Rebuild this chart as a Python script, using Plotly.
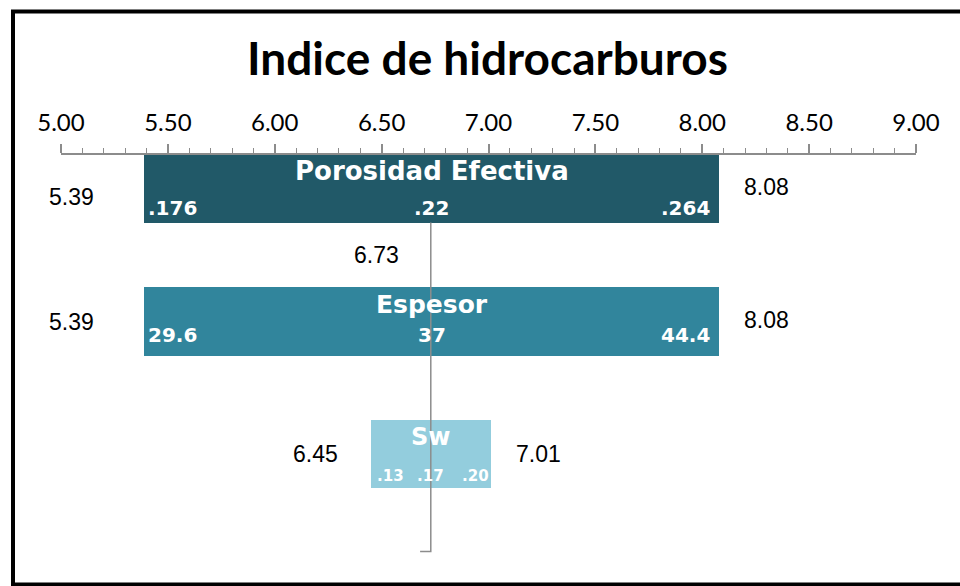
import plotly.graph_objects as go

# --- data -------------------------------------------------------------
chart_title = "Indice de hidrocarburos"
categories = ["Porosidad Efectiva", "Espesor", "Sw"]
low_values = [5.39, 5.39, 6.45]
high_values = [8.08, 8.08, 7.01]
base_value = 6.73
param_low = [".176", "29.6", ".13"]
param_mid = [".22", "37", ".17"]
param_high = [".264", "44.4", ".20"]
tick_values = [5.0, 5.5, 6.0, 6.5, 7.0, 7.5, 8.0, 8.5, 9.0]

# --- style ------------------------------------------------------------
bar_colors = ["#215968", "#31859C", "#93CDDD"]
name_sizes = [26, 25, 24]
param_sizes = [20, 20, 15]
name_shift = [18, 17, 17]
param_shift = [-19, -13, -22]
side_font = "Liberation Sans, Arial, sans-serif"
bar_font = "DejaVu Sans, Verdana, sans-serif"
axis_gray = "#8c8c8c"

W, H = 960, 586
ML, MR, MT, MB = 61, 44, 155, 20
y_range = [2.85, -0.26]

fig = go.Figure()

# spine through the base case
rows = list(range(len(categories)))
spine_bottom = 2.74
fig.add_trace(go.Scatter(
    x=[base_value, base_value, base_value - 0.05],
    y=[0.25, spine_bottom, spine_bottom],
    mode="lines", line=dict(color=axis_gray, width=1.5),
    hoverinfo="skip", showlegend=False,
))

fig.add_trace(go.Bar(
    y=rows,
    x=[h - l for l, h in zip(low_values, high_values)],
    base=low_values,
    orientation="h",
    width=0.515,
    marker=dict(color=bar_colors, line=dict(width=0)),
    hoverinfo="skip", showlegend=False,
))

ann = []
for i, name in enumerate(categories):
    lo, hi = low_values[i], high_values[i]
    mid = (lo + hi) / 2
    ann.append(dict(x=mid, y=i, text=f"<b>{name}</b>", showarrow=False,
                    yshift=name_shift[i],
                    font=dict(family=bar_font, size=name_sizes[i], color="white")))
    ann.append(dict(x=lo, y=i, text=f"<b>{param_low[i]}</b>", showarrow=False,
                    xanchor="left", xshift=2 if i < 2 else 4, yshift=param_shift[i],
                    font=dict(family=bar_font, size=param_sizes[i], color="white")))
    ann.append(dict(x=mid, y=i, text=f"<b>{param_mid[i]}</b>", showarrow=False,
                    yshift=param_shift[i],
                    font=dict(family=bar_font, size=param_sizes[i], color="white")))
    ann.append(dict(x=hi, y=i, text=f"<b>{param_high[i]}</b>", showarrow=False,
                    xanchor="right", xshift=-7 if i < 2 else 0, yshift=param_shift[i],
                    font=dict(family=bar_font, size=param_sizes[i], color="white")))
    # low / high outcome values beside each bar
    ann.append(dict(x=lo, y=i, text=f"{lo:.2f}", showarrow=False,
                    xanchor="right", xshift=-48 if i < 2 else -31,
                    yshift=-8 if i == 0 else 0,
                    font=dict(family=side_font, size=23, color="black")))
    ann.append(dict(x=hi, y=i, text=f"{hi:.2f}", showarrow=False,
                    xanchor="left", xshift=23,
                    yshift=2 if i < 2 else 0,
                    font=dict(family=side_font, size=23, color="black")))

ann.append(dict(x=base_value, y=0.5, text=f"{base_value:.2f}", showarrow=False,
                xanchor="right", xshift=-30,
                font=dict(family=side_font, size=23, color="black")))

pw, ph = W - ML - MR, H - MT - MB
ann.append(dict(xref="paper", yref="paper", x=(487 - ML) / pw, y=(H - MB - 57) / ph,
                xanchor="center", yanchor="middle",
                text=f"<b>{chart_title}</b>", showarrow=False,
                font=dict(family="Lato, sans-serif", size=46, color="black")))

# outer frame, running past the right edge of the page
frame = dict(type="rect", xref="paper", yref="paper",
             x0=(13 - ML) / pw, x1=(1010 - ML) / pw,
             y0=(H - MB - 584.5) / ph, y1=(H - MB - 11.5) / ph,
             line=dict(color="black", width=4), fillcolor="rgba(0,0,0,0)", layer="below")

fig.update_layout(
    width=W, height=H,
    margin=dict(l=ML, r=MR, t=MT, b=MB),
    paper_bgcolor="white", plot_bgcolor="white",
    annotations=ann, shapes=[frame],
    xaxis=dict(
        range=[5, 9], side="top", tickvals=tick_values, tickformat=".2f",
        ticks="outside", ticklen=9, tickwidth=1.5, tickcolor=axis_gray,
        showline=True, linecolor=axis_gray, linewidth=1.5,
        showgrid=False, zeroline=False,
        minor=dict(dtick=0.1, ticks="outside", ticklen=5, tickwidth=1.2, tickcolor=axis_gray, showgrid=False),
        tickfont=dict(family="Lato, sans-serif", size=24, color="black"),
        ticklabelstandoff=4,
        fixedrange=True,
    ),
    yaxis=dict(range=y_range, visible=False, fixedrange=True),
    bargap=0,
)

fig.write_html("out.html")
